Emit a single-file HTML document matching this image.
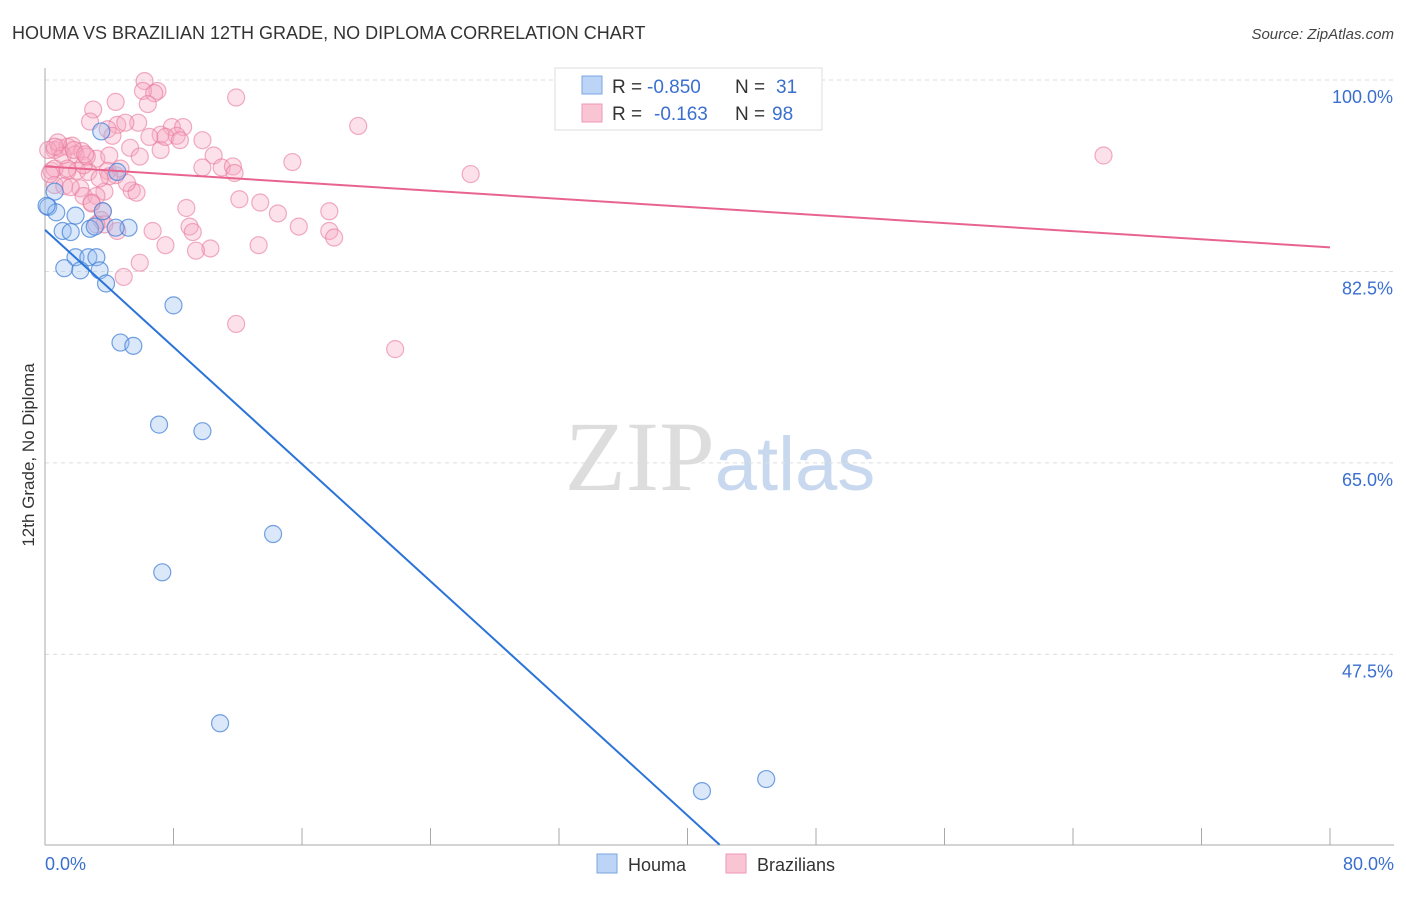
<!DOCTYPE html>
<html><head><meta charset="utf-8"><style>
body{margin:0;background:#fff;font-family:"Liberation Sans",sans-serif;}
</style></head><body>
<svg id="chart" width="1406" height="892" xmlns="http://www.w3.org/2000/svg" font-family="Liberation Sans, sans-serif">
<text x="12" y="39" font-size="18" fill="#333">HOUMA VS BRAZILIAN 12TH GRADE, NO DIPLOMA CORRELATION CHART</text>
<text x="1394" y="39" font-size="15" fill="#444" text-anchor="end" font-style="italic">Source: ZipAtlas.com</text>
<text x="720" y="490" font-size="100" text-anchor="middle" fill="#ddd" font-family="Liberation Serif, serif">ZIP<tspan fill="#c8d8ee" font-family="Liberation Sans, sans-serif" font-size="76">atlas</tspan></text>
<g id="grid"></g><g id="axes"></g><g id="pts"></g><g id="lines"></g>
<text transform="translate(34,455) rotate(-90)" font-size="17" fill="#333" text-anchor="middle">12th Grade, No Diploma</text>
<g font-size="19">
<rect x="555" y="68" width="267" height="62" fill="#fff" stroke="#ddd"/>
<rect x="582" y="76" width="20" height="18" fill="#bcd4f5" stroke="#7aa6e0"/>
<rect x="582" y="104" width="20" height="18" fill="#f9c5d5" stroke="#ee99b4"/>
<text x="612" y="93" fill="#333">R =</text><text x="647" y="93" fill="#3a6fd0">-0.850</text>
<text x="735" y="93" fill="#333">N =</text><text x="776" y="93" fill="#3a6fd0">31</text>
<text x="612" y="120" fill="#333">R =</text><text x="654" y="120" fill="#3a6fd0">-0.163</text>
<text x="735" y="120" fill="#333">N =</text><text x="772" y="120" fill="#3a6fd0">98</text>
</g>
<g><rect x="597" y="854" width="20" height="19" fill="#bcd4f5" stroke="#7aa6e0"/><text x="628" y="871" font-size="18" fill="#333">Houma</text></g>
<g><rect x="726" y="854" width="20" height="19" fill="#f9c5d5" stroke="#ee99b4"/><text x="757" y="871" font-size="18" fill="#333">Brazilians</text></g>
</svg>
<script>
const yTicks=[100,82.5,65,47.5];
const yTickLabels=["100.0%","82.5%","65.0%","47.5%"];
const xTickLabels=["0.0%","80.0%"];
const houmaX=[3.5,0.6,0.2,0.7,1.9,1.1,1.6,2.8,3.6,5.2,4.4,3.1,1.9,2.7,3.2,1.2,2.2,3.4,3.8,8.0,4.7,5.5,7.1,9.8,14.2,7.3,10.9,40.9,44.9,4.5,0.1];
const houmaY=[95.3,89.8,88.4,87.9,87.6,86.2,86.1,86.4,88.0,86.5,86.5,86.6,83.8,83.8,83.8,82.8,82.6,82.6,81.4,79.4,76.0,75.7,68.5,67.9,58.5,55.0,41.2,35.0,36.1,91.6,88.5];
const brX=[6.2,7.0,6.1,6.8,11.9,4.4,3.0,6.4,5.8,4.5,5.0,2.8,3.9,7.9,8.6,19.5,7.2,8.2,6.5,9.8,0.6,0.9,1.4,1.7,0.2,2.3,1.1,1.9,3.2,4.0,5.3,7.2,10.5,15.4,65.9,0.4,1.4,2.0,2.7,3.9,4.4,9.8,11.0,11.7,11.8,26.5,0.6,1.4,2.4,4.7,4.0,0.6,2.2,3.7,5.4,5.7,2.4,3.2,12.1,13.4,2.9,3.6,8.8,14.5,17.7,3.5,3.7,3.2,4.5,6.7,9.0,9.2,15.8,17.7,18.0,7.5,10.3,9.4,13.3,5.9,4.9,11.9,21.8,1.2,0.3,1.8,2.6,0.8,3.4,5.9,2.5,5.1,7.5,2.9,0.6,4.2,8.4,1.6];
const brY=[99.9,99.0,99.0,98.8,98.4,98.0,97.3,97.8,96.1,95.9,96.1,96.2,95.5,95.7,95.7,95.8,95.0,94.9,94.8,94.5,93.6,93.8,93.9,94.0,93.6,93.5,93.1,93.2,92.8,93.1,93.8,93.6,93.1,92.5,93.1,91.7,91.7,91.7,91.6,91.7,91.3,92.0,92.0,92.1,91.5,91.4,91.9,91.9,92.2,91.9,91.2,90.4,90.1,89.8,89.9,89.7,89.4,89.4,89.1,88.8,88.7,88.0,88.3,87.8,88.0,87.2,86.8,86.8,86.2,86.2,86.6,86.1,86.6,86.2,85.6,84.9,84.6,84.4,84.9,83.3,82.0,77.7,75.4,90.3,91.4,93.6,93.0,94.3,91.0,93.0,93.2,90.6,94.8,88.8,93.9,94.9,94.5,90.2];
const houmaFit=[86.3,30.1]; const houmaFitX=[0,42];
const brFit=[92.1,84.7]; const brFitX=[0,80];
const X=v=>45+v/80*1285, Y=v=>80+(100-v)*10.94;
const NS="http://www.w3.org/2000/svg";
function mk(p,t,a){const e=document.createElementNS(NS,t);for(const k in a)e.setAttribute(k,a[k]);p.appendChild(e);return e;}
const grid=document.getElementById('grid'),axes=document.getElementById('axes'),pts=document.getElementById('pts'),lines=document.getElementById('lines');
yTicks.forEach((t,i)=>{const l=mk(grid,'line',{x1:45,x2:1394,y1:Y(t),y2:Y(t),stroke:'#ddd','stroke-dasharray':'4,4'});


const tx=mk(axes,'text',{x:1393,y:Y(t)+23,'font-size':18,fill:'#3a6fd0','text-anchor':'end'});tx.textContent=yTickLabels[i];

});
const xa=mk(axes,'line',{x1:45,x2:1394,y1:845,y2:845,stroke:'#aaa'});


const ya=mk(axes,'line',{x1:45,x2:45,y1:68,y2:845,stroke:'#aaa'});


for(let i=1;i<=10;i++){const t=mk(axes,'line',{x1:X(i*8),x2:X(i*8),y1:828,y2:845,stroke:'#aaa'});

}
[[0,'start',45],[80,'end',1394]].forEach((d,i)=>{const t=mk(axes,'text',{x:d[2],y:870,'font-size':18,fill:'#3a6fd0','text-anchor':d[1]});t.textContent=xTickLabels[i];

});
brX.forEach((x,i)=>{const c=mk(pts,'circle',{cx:X(x),cy:Y(brY[i]),r:8.5,fill:'rgba(246,170,195,0.35)',stroke:'rgba(232,120,155,0.6)','stroke-width':1.2});

});
houmaX.forEach((x,i)=>{const c=mk(pts,'circle',{cx:X(x),cy:Y(houmaY[i]),r:8.5,fill:'rgba(150,190,240,0.35)',stroke:'rgba(70,130,215,0.75)','stroke-width':1.2});

});
const l1=mk(lines,'line',{x1:X(houmaFitX[0]),y1:Y(houmaFit[0]),x2:X(houmaFitX[1]),y2:Y(houmaFit[1]),stroke:'#2b74d8','stroke-width':2});


const l2=mk(lines,'line',{x1:X(brFitX[0]),y1:Y(brFit[0]),x2:X(brFitX[1]),y2:Y(brFit[1]),stroke:'#e8648f','stroke-width':2});


</script>
</body></html>
